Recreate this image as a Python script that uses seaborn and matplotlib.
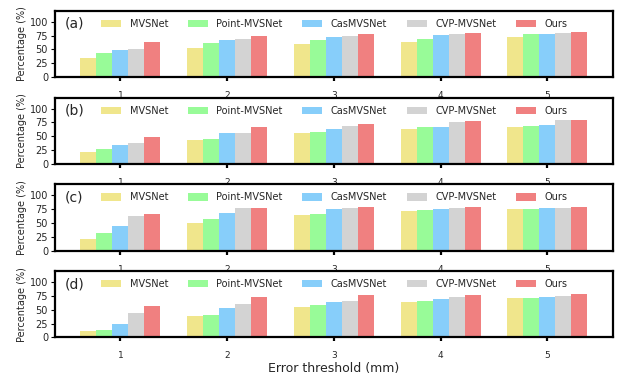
import numpy as np
import pandas as pd
import seaborn as sns
import matplotlib
matplotlib.use("Agg")
import matplotlib.pyplot as plt

thresholds = ["1", "2", "3", "4", "5"]
methods = ["MVSNet", "Point-MVSNet", "CasMVSNet", "CVP-MVSNet", "Ours"]
colors = ["#F0E68C", "#98FB98", "#87CEFA", "#D3D3D3", "#F08080"]
panel_labels = ["(a)", "(b)", "(c)", "(d)"]

# values per panel: rows = methods, cols = thresholds 1..5
panel_a = {
    "MVSNet":       [35.2, 53.0, 60.1, 63.7, 72.6],
    "Point-MVSNet": [44.1, 61.9, 67.3, 69.0, 78.0],
    "CasMVSNet":    [49.5, 67.3, 72.6, 76.2, 78.0],
    "CVP-MVSNet":   [51.3, 69.0, 74.4, 78.0, 79.8],
    "Ours":         [63.7, 74.4, 78.0, 79.8, 81.5],
}
panel_b = {
    "MVSNet":       [20.9, 42.9, 55.8, 63.2, 66.9],
    "Point-MVSNet": [26.4, 44.8, 57.7, 66.9, 68.7],
    "CasMVSNet":    [33.7, 55.8, 63.2, 66.9, 70.6],
    "CVP-MVSNet":   [37.4, 55.8, 68.7, 76.1, 79.8],
    "Ours":         [48.5, 66.9, 72.4, 77.9, 79.8],
}
panel_c = {
    "MVSNet":       [21.0, 49.7, 64.1, 71.3, 74.9],
    "Point-MVSNet": [31.7, 56.9, 65.9, 73.1, 74.9],
    "CasMVSNet":    [44.3, 67.7, 74.9, 74.9, 76.6],
    "CVP-MVSNet":   [62.3, 76.6, 76.6, 76.6, 76.6],
    "Ours":         [65.9, 76.6, 78.4, 78.4, 78.4],
}
panel_d = {
    "MVSNet":       [12.0, 38.9, 55.1, 64.1, 71.3],
    "Point-MVSNet": [13.8, 40.7, 58.7, 65.9, 71.3],
    "CasMVSNet":    [24.6, 53.3, 64.1, 69.5, 73.1],
    "CVP-MVSNet":   [44.3, 60.5, 65.9, 73.1, 74.9],
    "Ours":         [56.9, 73.1, 76.6, 76.6, 78.4],
}
panels = [panel_a, panel_b, panel_c, panel_d]

sns.set_style("ticks")
plt.rcParams["font.family"] = ["DejaVu Sans"]
text_color = "#262626"

fig, axes = plt.subplots(4, 1, figsize=(6.18, 3.74), dpi=100)
fig.subplots_adjust(left=0.089, right=0.9914, top=0.971, bottom=0.0976, hspace=0.31)

for ax, pdata, plab in zip(axes, panels, panel_labels):
    rows = []
    for m in methods:
        for t, v in zip(thresholds, pdata[m]):
            rows.append({"threshold": t, "method": m, "value": v})
    df = pd.DataFrame(rows)
    sns.barplot(data=df, x="threshold", y="value", hue="method",
                order=thresholds, hue_order=methods, palette=colors,
                width=0.75, saturation=1, linewidth=0, errorbar=None, ax=ax)
    ax.set_xlim(-0.6125, 4.6125)
    ax.set_ylim(0, 120)
    ax.set_yticks([0, 25, 50, 75, 100])
    ax.set_xlabel("")
    ax.set_ylabel("Percentage (%)", fontsize=7, color=text_color, labelpad=2)
    for s in ax.spines.values():
        s.set_visible(True)
        s.set_linewidth(1.6)
        s.set_color("black")
    ax.tick_params(axis="x", length=3, width=1.6, labelsize=6.5, labelcolor=text_color, pad=7, color="black")
    ax.tick_params(axis="y", length=3, width=0.8, labelsize=7, labelcolor=text_color, pad=2, color="black")
    handles, labels = ax.get_legend_handles_labels()
    if ax.get_legend() is not None:
        ax.get_legend().remove()
    ax.legend(handles, labels, ncol=5, loc="center", bbox_to_anchor=(0.501, 0.805),
              frameon=False, fontsize=7, handlelength=2.05, handleheight=0.75,
              handletextpad=0.9, columnspacing=2.0, labelcolor=text_color,
              borderpad=0, borderaxespad=0)
    ax.text(0.018, 0.805, plab, transform=ax.transAxes, fontsize=10,
            va="center", ha="left", color=text_color)

axes[-1].set_xlabel("Error threshold (mm)", fontsize=9, color=text_color, labelpad=1)

fig.savefig("out.png", dpi=100)
